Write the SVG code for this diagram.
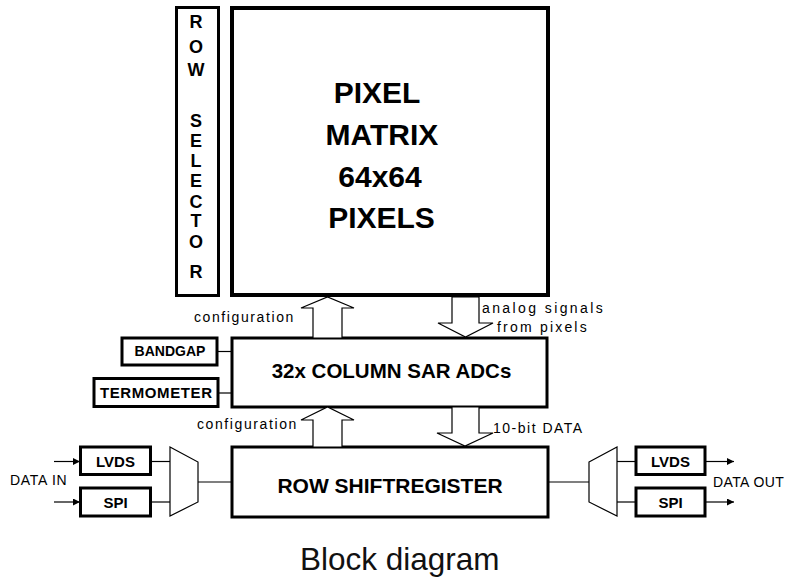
<svg xmlns="http://www.w3.org/2000/svg" width="788" height="579" viewBox="0 0 788 579">
<defs>
<marker id="ah" viewBox="0 0 10 10" refX="10" refY="5" markerWidth="10" markerHeight="7" markerUnits="userSpaceOnUse" orient="auto">
<path d="M0,0 L10,5 L0,10 z" fill="#000"/>
</marker>
</defs>
<style>
.box{fill:#fff;stroke:#000;stroke-width:3}
.big{fill:#fff;stroke:#000;stroke-width:4}
.ln{fill:none;stroke:#000;stroke-width:1.2}
.fat{fill:#fff;stroke:#000;stroke-width:1.2;stroke-linejoin:miter}
.b{font-family:"Liberation Sans",Arial,sans-serif;font-weight:bold;fill:#000}
.r{font-family:"Liberation Sans",Arial,sans-serif;fill:#000;font-size:14px}
</style>
<rect width="788" height="579" fill="#fff"/>

<g id="row-selector">
<rect class="box" x="176.5" y="7.5" width="42" height="288"/>
<g class="b" font-size="18" text-anchor="middle">
<text x="196" y="28">R</text>
<text x="196" y="53">O</text>
<text x="196" y="76">W</text>
<text x="196" y="127">S</text>
<text x="196" y="147">E</text>
<text x="196" y="167">L</text>
<text x="196" y="187">E</text>
<text x="196" y="208">C</text>
<text x="196" y="227">T</text>
<text x="196" y="248">O</text>
<text x="196" y="278">R</text>
</g>
</g>

<g id="pixel-matrix">
<rect class="big" x="232" y="8" width="316" height="287"/>
<g class="b" font-size="30" text-anchor="middle">
<text x="377" y="103">PIXEL</text>
<text x="382" y="145">MATRIX</text>
<text x="380" y="187">64x64</text>
<text x="381.5" y="228">PIXELS</text>
</g>
</g>

<g id="adc">
<rect class="box" x="232" y="338" width="315" height="69"/>
<text class="b" font-size="20.5" x="391.5" y="378" text-anchor="middle">32x COLUMN SAR ADCs</text>
</g>

<g id="bandgap">
<rect class="box" x="122" y="338" width="95" height="27"/>
<text class="b" font-size="14" x="170" y="356" text-anchor="middle">BANDGAP</text>
</g>

<g id="termometer">
<rect class="box" x="94" y="378.5" width="124" height="28"/>
<text class="b" font-size="15" x="156" y="398" text-anchor="middle" textLength="112" lengthAdjust="spacing">TERMOMETER</text>
</g>

<g id="row-shift-register">
<rect class="box" x="232" y="447" width="316" height="70"/>
<text class="b" font-size="21" x="390" y="493" text-anchor="middle">ROW SHIFTREGISTER</text>
</g>

<g id="lvds-in">
<rect class="box" x="80.5" y="447" width="70" height="27.5"/>
<text class="b" font-size="15" x="115.5" y="467" text-anchor="middle">LVDS</text>
</g>
<g id="spi-in">
<rect class="box" x="80.5" y="488" width="70" height="28"/>
<text class="b" font-size="15" x="115.5" y="507.5" text-anchor="middle">SPI</text>
</g>
<g id="mux-in">
<polygon class="ln" points="170,447 198,462 198,502 170,516"/>
</g>

<g id="lvds-out">
<rect class="box" x="636" y="447" width="69" height="27.5"/>
<text class="b" font-size="15" x="670.5" y="467" text-anchor="middle">LVDS</text>
</g>
<g id="spi-out">
<rect class="box" x="636" y="488" width="69" height="28"/>
<text class="b" font-size="15" x="670.5" y="507.5" text-anchor="middle">SPI</text>
</g>
<g id="mux-out">
<polygon class="ln" points="589,462 617,447 617,516 589,502"/>
</g>

<g id="connectors">
<polygon class="fat" points="313,338 313,308 301,308 327.5,297 354,308 342,308 342,338"/>
<polygon class="fat" points="452,297 452,323 438,323 465.5,337 493,323 479,323 479,297"/>
<polygon class="fat" points="313,447 313,420 301,420 327.5,407 354,420 342,420 342,447"/>
<polygon class="fat" points="452,407 452,433 437,433 465,446 493,433 479,433 479,407"/>
<line class="ln" x1="217" y1="351.5" x2="232" y2="351.5"/>
<line class="ln" x1="218" y1="393" x2="232" y2="393"/>
<line class="ln" x1="54" y1="461.5" x2="80" y2="461.5" marker-end="url(#ah)"/>
<line class="ln" x1="54" y1="502" x2="80" y2="502" marker-end="url(#ah)"/>
<line class="ln" x1="151" y1="461.5" x2="170" y2="461.5"/>
<line class="ln" x1="151" y1="502" x2="170" y2="502"/>
<line class="ln" x1="198" y1="482" x2="232" y2="482"/>
<line class="ln" x1="548" y1="482" x2="589" y2="482"/>
<line class="ln" x1="617" y1="461.5" x2="636" y2="461.5"/>
<line class="ln" x1="617" y1="502" x2="636" y2="502"/>
<line class="ln" x1="705" y1="461.5" x2="734" y2="461.5" marker-end="url(#ah)"/>
<line class="ln" x1="705" y1="502" x2="734" y2="502" marker-end="url(#ah)"/>
</g>

<g id="labels">
<text class="r" x="194" y="322" letter-spacing="1.6">configuration</text>
<text class="r" x="197" y="429" letter-spacing="1.6">configuration</text>
<text class="r" x="482" y="313" letter-spacing="2.4">analog signals</text>
<text class="r" x="497" y="332" letter-spacing="2.2">from pixels</text>
<text class="r" x="493" y="433" letter-spacing="1.5">10-bit DATA</text>
<text class="r" x="10" y="485" letter-spacing="0.7">DATA IN</text>
<text class="r" x="713" y="487" letter-spacing="0.4">DATA OUT</text>
<text x="300" y="570" font-family="Liberation Sans, Arial, sans-serif" font-size="31.5" fill="#111">Block diagram</text>
</g>
</svg>
